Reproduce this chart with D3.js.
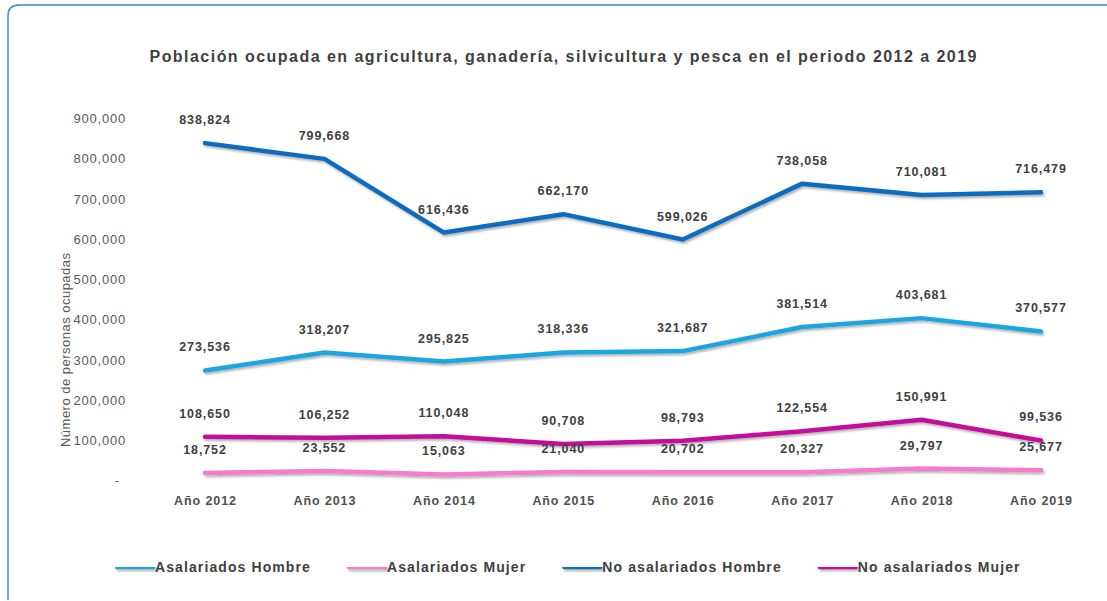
<!DOCTYPE html>
<html>
<head>
<meta charset="utf-8">
<script src="https://cdn.jsdelivr.net/npm/d3@7"></script>
<style>
  html, body { margin: 0; padding: 0; background: #fff; }
  svg { display: block; font-family: "Liberation Sans", Arial, sans-serif; }
</style>
</head>
<body>
<div id="chart"></div>
<script>
// datos
const years = ["Año 2012", "Año 2013", "Año 2014", "Año 2015", "Año 2016", "Año 2017", "Año 2018", "Año 2019"];
const asalariadosHombre = [273536, 318207, 295825, 318336, 321687, 381514, 403681, 370577];
const asalariadosMujer = [18752, 23552, 15063, 21040, 20702, 20327, 29797, 25677];
const noAsalariadosHombre = [838824, 799668, 616436, 662170, 599026, 738058, 710081, 716479];
const noAsalariadosMujer = [108650, 106252, 110048, 90708, 98793, 122554, 150991, 99536];
const yTicks = [0, 100000, 200000, 300000, 400000, 500000, 600000, 700000, 800000, 900000];
const seriesNames = ["Asalariados Hombre", "Asalariados Mujer", "No asalariados Hombre", "No asalariados Mujer"];

const width = 1107;
const height = 601;

const colors = {
  "Asalariados Hombre": "#1fa6e0",
  "Asalariados Mujer": "#f47bcb",
  "No asalariados Hombre": "#0b6cbd",
  "No asalariados Mujer": "#c4119a"
};

const seriesData = {
  "Asalariados Hombre": asalariadosHombre,
  "Asalariados Mujer": asalariadosMujer,
  "No asalariados Hombre": noAsalariadosHombre,
  "No asalariados Mujer": noAsalariadosMujer
};

const svg = d3.select("#chart").append("svg")
  .attr("width", width)
  .attr("height", height);

// sombra de las lineas (en coordenadas de usuario para que funcione en lineas horizontales)
const defs = svg.append("defs");
defs.append("filter")
  .attr("id", "shadow")
  .attr("filterUnits", "userSpaceOnUse")
  .attr("x", 0).attr("y", 0)
  .attr("width", width).attr("height", height)
  .append("feDropShadow")
  .attr("dx", 1.5)
  .attr("dy", 2)
  .attr("stdDeviation", 1.2)
  .attr("flood-color", "#000")
  .attr("flood-opacity", 0.3);

// marco del area (borde redondeado arriba-izquierda)
svg.append("path")
  .attr("d", "M8,600 L8,16 Q8,5 19,5 L1107,5")
  .attr("fill", "none")
  .attr("stroke", "#3a86c4")
  .attr("stroke-width", 1.5);

// titulo
svg.append("text")
  .attr("x", 563)
  .attr("y", 62)
  .attr("text-anchor", "middle")
  .attr("textLength", 827)
  .attr("lengthAdjust", "spacing")
  .style("font-size", "16px")
  .style("font-weight", "bold")
  .style("fill", "#404040")
  .text("Población ocupada en agricultura, ganadería, silvicultura y pesca en el periodo 2012 a 2019");

const x = d3.scalePoint()
  .domain(years)
  .range([205, 1041]);

const y = d3.scaleLinear()
  .domain([0, 900000])
  .range([480.5, 118.5]);

// eje Y
const yAxis = svg.append("g")
  .attr("transform", "translate(129,0)")
  .call(d3.axisLeft(y).tickValues(yTicks).tickSize(0).tickPadding(3)
    .tickFormat(d => d === 0 ? "-" : d3.format(",")(d)));
yAxis.select(".domain").remove();
yAxis.selectAll("text")
  .style("font-family", "'Liberation Sans', Arial, sans-serif")
  .style("font-size", "13px")
  .style("letter-spacing", "0.8px")
  .style("fill", "#595959")
  .attr("dx", d => d === 0 ? -6 : 0);

// titulo eje Y
svg.append("text")
  .attr("transform", "translate(70,350) rotate(-90)")
  .attr("text-anchor", "middle")
  .attr("textLength", 194)
  .style("font-size", "13px")
  .style("fill", "#595959")
  .text("Número de personas ocupadas");

// eje X
const xAxis = svg.append("g")
  .attr("transform", "translate(0,490)")
  .call(d3.axisBottom(x).tickSize(0).tickPadding(6));
xAxis.select(".domain").remove();
xAxis.selectAll("text")
  .style("font-family", "'Liberation Sans', Arial, sans-serif")
  .style("font-size", "12.5px")
  .style("font-weight", "bold")
  .style("letter-spacing", "0.9px")
  .style("fill", "#505050");

// lineas
const line = d3.line()
  .x((d, i) => x(years[i]))
  .y(d => y(d));

const drawOrder = ["Asalariados Mujer", "No asalariados Mujer", "Asalariados Hombre", "No asalariados Hombre"];

svg.append("g")
  .selectAll("path")
  .data(drawOrder)
  .enter()
  .append("path")
  .attr("d", d => line(seriesData[d]))
  .attr("fill", "none")
  .attr("stroke", d => colors[d])
  .attr("stroke-width", 4.5)
  .attr("stroke-linejoin", "round")
  .attr("stroke-linecap", "round")
  .attr("filter", "url(#shadow)");

// etiquetas de datos
const labels = drawOrder.flatMap(name => seriesData[name].map((v, i) => ({ name, v, year: years[i] })));

svg.append("g")
  .selectAll("text")
  .data(labels)
  .enter()
  .append("text")
  .attr("x", d => x(d.year))
  .attr("y", d => y(d.v) - 19)
  .attr("text-anchor", "middle")
  .style("font-size", "12.5px")
  .style("font-weight", "bold")
  .style("letter-spacing", "0.9px")
  .style("fill", "#404040")
  .text(d => d3.format(",")(d.v));

// leyenda
const legend = svg.append("g")
  .attr("transform", "translate(115,567)");

let lx = 0;
seriesNames.forEach(name => {
  const item = legend.append("g").attr("transform", `translate(${lx},0)`);
  item.append("line")
    .attr("x1", 2).attr("x2", 38)
    .attr("y1", 0).attr("y2", 0)
    .attr("stroke", colors[name])
    .attr("stroke-width", 4.5)
    .attr("stroke-linecap", "round")
    .attr("filter", "url(#shadow)");
  const t = item.append("text")
    .attr("x", 40)
    .attr("y", 5)
    .style("font-size", "14px")
    .style("font-weight", "bold")
    .style("letter-spacing", "1.1px")
    .style("fill", "#404040")
    .text(name);
  lx += 40 + t.node().getComputedTextLength() + 36;
});
</script>
</body>
</html>
